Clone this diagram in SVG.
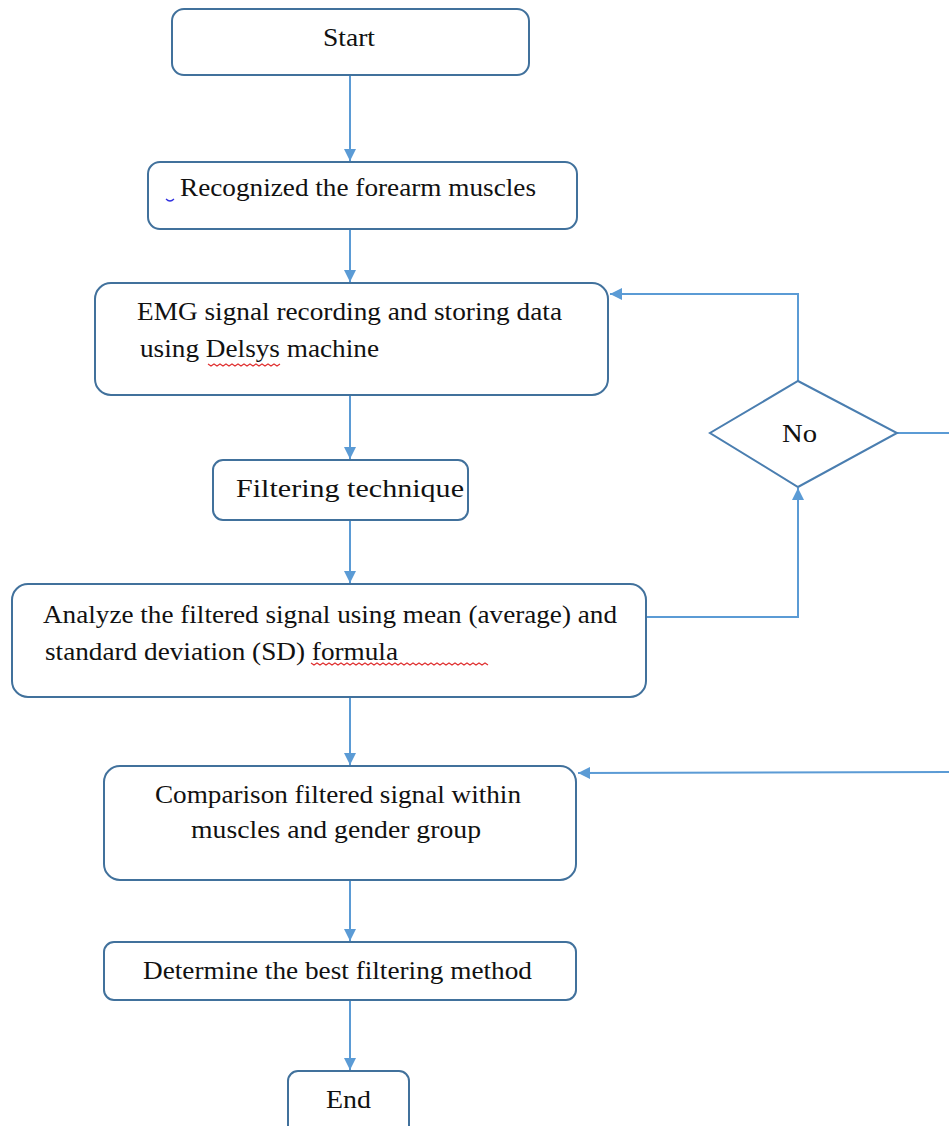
<svg xmlns="http://www.w3.org/2000/svg" width="949" height="1126" viewBox="0 0 949 1126">
<style>
.box{fill:#fff;stroke:#41719C;stroke-width:2}
.dia{fill:#fff;stroke:#4A7EB0;stroke-width:2}
.c{fill:none;stroke:#5B9BD5;stroke-width:2}
text{font-family:"Liberation Serif","Times New Roman",serif;font-size:26px;fill:#111}
.sq{fill:none;stroke:#e03030;stroke-width:1.2}
</style>
<defs>
<marker id="ah" viewBox="0 0 10 10" refX="10" refY="5" markerWidth="6" markerHeight="6" orient="auto" markerUnits="strokeWidth">
<path d="M0,0 L10,5 L0,10 z" fill="#5B9BD5"/>
</marker>
</defs>
<rect width="949" height="1126" fill="#fff"/>
<g id="connectors">
<line class="c" x1="350" y1="76" x2="350" y2="161" marker-end="url(#ah)"/>
<line class="c" x1="350" y1="230" x2="350" y2="282" marker-end="url(#ah)"/>
<line class="c" x1="350" y1="396" x2="350" y2="459" marker-end="url(#ah)"/>
<line class="c" x1="350" y1="521" x2="350" y2="583" marker-end="url(#ah)"/>
<line class="c" x1="350" y1="698" x2="350" y2="765" marker-end="url(#ah)"/>
<line class="c" x1="350" y1="881" x2="350" y2="941" marker-end="url(#ah)"/>
<line class="c" x1="350" y1="1001" x2="350" y2="1070" marker-end="url(#ah)"/>
<polyline class="c" points="647,617 798,617 798,488" marker-end="url(#ah)"/>
<polyline class="c" points="798,381 798,294 610,294" marker-end="url(#ah)"/>
<line class="c" x1="897" y1="433" x2="949" y2="433"/>
<line class="c" x1="949" y1="772" x2="578" y2="773" marker-end="url(#ah)"/>
</g>
<g id="start">
<rect class="box" x="172" y="9" width="357" height="66" rx="12"/>
<text x="323" y="46" textLength="52" lengthAdjust="spacingAndGlyphs">Start</text>
</g>
<g id="recognize">
<rect class="box" x="148" y="162" width="429" height="67" rx="12"/>
<text x="180" y="196" textLength="356" lengthAdjust="spacingAndGlyphs">Recognized the forearm muscles</text>
<path d="M166,199 q4,4 8,0" fill="none" stroke="#3030e0" stroke-width="1.2"/>
</g>
<g id="emg">
<rect class="box" x="95" y="283" width="513" height="112" rx="16"/>
<text x="137" y="320" textLength="425" lengthAdjust="spacingAndGlyphs">EMG signal recording and storing data</text>
<text x="140" y="357" textLength="239" lengthAdjust="spacingAndGlyphs">using Delsys machine</text>
<path class="sq" d="M208,364 l3,2 l3,-2 l3,2 l3,-2 l3,2 l3,-2 l3,2 l3,-2 l3,2 l3,-2 l3,2 l3,-2 l3,2 l3,-2 l3,2 l3,-2 l3,2 l3,-2 l3,2 l3,-2 l3,2 l3,-2 l3,2 l3,-2"/>
</g>
<g id="filtering">
<rect class="box" x="213" y="460" width="255" height="60" rx="10"/>
<text x="236" y="497" textLength="228" lengthAdjust="spacingAndGlyphs">Filtering technique</text>
</g>
<g id="analyze">
<rect class="box" x="12" y="584" width="634" height="113" rx="16"/>
<text x="43" y="623" textLength="574" lengthAdjust="spacingAndGlyphs">Analyze the filtered signal using mean (average) and</text>
<text x="45" y="660" textLength="353" lengthAdjust="spacingAndGlyphs">standard deviation (SD) formula</text>
<path class="sq" d="M311,663 l3,2 l3,-2 l3,2 l3,-2 l3,2 l3,-2 l3,2 l3,-2 l3,2 l3,-2 l3,2 l3,-2 l3,2 l3,-2 l3,2 l3,-2 l3,2 l3,-2 l3,2 l3,-2 l3,2 l3,-2 l3,2 l3,-2 l3,2 l3,-2 l3,2 l3,-2 l3,2 l3,-2 l3,2 l3,-2 l3,2 l3,-2 l3,2 l3,-2 l3,2 l3,-2 l3,2 l3,-2 l3,2 l3,-2 l3,2 l3,-2 l3,2 l3,-2 l3,2 l3,-2 l3,2 l3,-2 l3,2 l3,-2 l3,2 l3,-2 l3,2 l3,-2 l3,2 l3,-2 l3,2"/>
</g>
<g id="decision">
<polygon class="dia" points="798,381 897,433 798,487 710,433"/>
<text x="782" y="442" textLength="35" lengthAdjust="spacingAndGlyphs">No</text>
</g>
<g id="comparison">
<rect class="box" x="104" y="766" width="472" height="114" rx="16"/>
<text x="155" y="803" textLength="366" lengthAdjust="spacingAndGlyphs">Comparison filtered signal within</text>
<text x="191" y="838" textLength="290" lengthAdjust="spacingAndGlyphs">muscles and gender group</text>
</g>
<g id="determine">
<rect class="box" x="104" y="942" width="472" height="58" rx="10"/>
<text x="143" y="979" textLength="389" lengthAdjust="spacingAndGlyphs">Determine the best filtering method</text>
</g>
<g id="end">
<rect class="box" x="288" y="1071" width="121" height="70" rx="10"/>
<text x="326" y="1108" textLength="45" lengthAdjust="spacingAndGlyphs">End</text>
</g>
</svg>
